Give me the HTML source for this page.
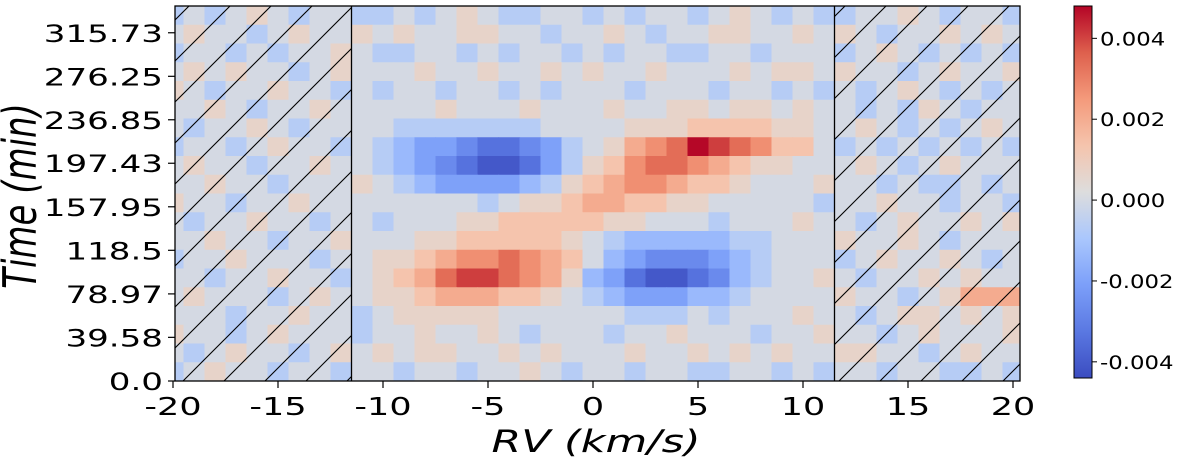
<!DOCTYPE html>
<html><head><meta charset="utf-8">
<style>
html,body{margin:0;padding:0;background:#fff;}
svg{display:block;font-family:"DejaVu Sans","Liberation Sans",sans-serif;}
</style></head>
<body>
<svg id="chart" width="1200" height="474" viewBox="0 0 1200 474" xmlns="http://www.w3.org/2000/svg">
<defs>
<clipPath id="plotclip"><rect x="175" y="6" width="845" height="375"/></clipPath>
<pattern id="hatch" patternUnits="userSpaceOnUse" width="41" height="41" patternTransform="translate(183,381)">
<line x1="0" y1="41" x2="41" y2="0" stroke="#000" stroke-width="1.1"/>
<line x1="-5" y1="5" x2="5" y2="-5" stroke="#000" stroke-width="1.1"/>
<line x1="36" y1="46" x2="46" y2="36" stroke="#000" stroke-width="1.1"/>
</pattern>
<linearGradient id="cbgrad" x1="0" y1="1" x2="0" y2="0">
<stop offset="0" stop-color="rgb(59,76,192)"/>
<stop offset="0.125" stop-color="rgb(90,120,226)"/>
<stop offset="0.25" stop-color="rgb(124,159,249)"/>
<stop offset="0.375" stop-color="rgb(170,199,253)"/>
<stop offset="0.5" stop-color="rgb(221,221,221)"/>
<stop offset="0.625" stop-color="rgb(245,196,173)"/>
<stop offset="0.75" stop-color="rgb(244,154,123)"/>
<stop offset="0.875" stop-color="rgb(222,96,77)"/>
<stop offset="1" stop-color="rgb(180,4,38)"/>
</linearGradient>
</defs>
<g id="cells" clip-path="url(#plotclip)"></g>
<rect x="175" y="6" width="176.5" height="375" fill="url(#hatch)" clip-path="url(#plotclip)"/>
<rect x="834.5" y="6" width="186" height="375" fill="url(#hatch)" clip-path="url(#plotclip)"/>
<line x1="351.5" y1="6" x2="351.5" y2="381" stroke="#000" stroke-width="1.3"/>
<line x1="834.5" y1="6" x2="834.5" y2="381" stroke="#000" stroke-width="1.3"/>
<rect x="175" y="6" width="845" height="375" fill="none" stroke="#000" stroke-width="1.3"/>
<g id="axes"></g>
<text transform="translate(596,452) scale(1.38,1)" text-anchor="middle" font-size="31" font-style="italic">RV (km/s)</text>
<text transform="translate(36,196) rotate(-90) scale(1,1.35)" text-anchor="middle" font-size="34" font-style="italic">Time (min)</text>
<rect x="1074" y="6" width="18" height="372" fill="url(#cbgrad)" stroke="#000" stroke-width="1"/>
<g id="cbaxis"></g>
</svg>
<script>
const vCats = [];
for (let v = -20; v <= 20; v++) vCats.push(v);
const rowDuration = 17;
const valueUnit = 0.00068;
// rows from top (latest time) to bottom (t=0), values in units of valueUnit
const row19 = [-1,0,-1,0,1,0,-1,0,0,-1, -1,0,-1,0,1,0,-1,-1,0,0, -1,0,-1,0,0,-1,0,1,0,-1, 0,-1,-1,0,0,1,0,-1,0,0, -1];
const row18 = [0,1,0,0,-1,0,1,0,0,1, 0,1,0,0,1,1,0,0,-1,0, 0,1,0,-1,0,0,1,1,0,0, 1,0,1,0,-1,0,0,1,0,1, 0];
const row17 = [-1,0,0,-1,0,-1,0,0,1,0, -1,-1,0,0,-1,0,-1,0,0,-1, 0,-1,0,0,-1,-1,0,0,-1,0, 0,0,-1,0,1,0,-1,0,-1,0, -1];
const row16 = [0,1,0,1,0,0,-1,0,1,0, 0,0,1,0,0,1,0,0,1,0, 1,0,0,1,0,0,0,1,0,1, 1,0,1,0,0,-1,0,1,0,0, 1];
const row15 = [1,0,-1,0,0,1,0,0,-1,0, -1,0,0,-1,0,0,-1,0,-1,0, 0,0,-1,0,0,0,-1,0,0,-1, 0,-1,0,-1,0,1,0,-1,0,-1, 0];
const row14 = [0,0,1,0,-1,0,0,1,0,0, 0,0,0,1,0,0,0,1,0,0, 0,1,0,0,1,1,0,1,1,0, 1,0,0,-1,0,-1,1,0,-1,0, 0];
const row13 = [0,-1,0,0,1,0,-1,0,0,0, 0,-1,-1,-1,-1,-1,-1,-1,0,0, 0,0,1,1,1,2,2,2,2,1, 1,0,0,1,0,-1,0,-1,0,1, 0];
const row12 = [-1,0,0,-1,0,1,0,0,-1,0, -1,-2,-3,-3,-4,-5,-5,-4,-3,-1, 0,1,3,4,5,7,6,5,4,2, 2,0,-1,0,-1,0,-1,0,-1,0, -1];
const row11 = [0,1,0,0,-1,0,0,1,0,0, -1,-2,-3,-4,-5,-6,-6,-5,-3,-1, 1,2,4,5,5,4,3,2,1,1, 0,0,0,1,0,-1,0,1,0,0, 0];
const row10 = [0,0,1,0,0,-1,0,0,0,1, 0,-1,-2,-3,-3,-3,-3,-2,-1,1, 2,3,4,4,3,2,2,1,0,0, 0,1,0,0,-1,0,-1,-1,0,-1, 0];
const row9 = [1,0,0,-1,0,0,1,0,0,0, 0,0,0,0,0,-1,0,1,1,2, 3,3,2,2,1,1,0,0,0,0, 0,-1,0,0,1,0,0,-1,0,0, -1];
const row8 = [0,-1,0,0,1,0,0,-1,0,0, -1,0,0,0,1,1,2,2,2,2, 2,1,1,0,0,0,-1,0,0,0, 1,0,0,-1,0,1,0,0,1,0, 1];
const row7 = [0,0,1,0,0,-1,0,0,1,0, 0,0,1,1,2,2,2,2,2,1, 0,-1,-2,-2,-2,-2,-2,-1,-1,0, 0,0,1,0,0,1,0,-1,0,0, 0];
const row6 = [-1,0,0,1,0,0,0,-1,0,0, 1,1,2,3,4,4,5,4,3,2, 0,-2,-3,-4,-4,-4,-3,-2,-1,0, 0,0,-1,0,1,0,0,1,0,-1, 0];
const row5 = [0,0,-1,0,0,1,0,0,-1,0, 1,2,3,5,6,6,5,4,3,1, -2,-3,-5,-6,-6,-5,-4,-2,-1,0, 0,1,0,-1,0,0,1,0,1,0, 0];
const row4 = [0,1,0,0,0,-1,0,1,0,0, 1,1,2,3,3,3,2,2,1,0, -1,-2,-3,-3,-3,-2,-2,-1,0,0, 0,0,1,0,0,-1,0,1,3,3, 3];
const row3 = [0,0,0,-1,0,0,1,0,0,-1, 0,1,1,1,1,1,0,0,0,0, 0,0,-1,-1,-1,0,-1,0,0,0, 1,0,0,-1,0,1,1,0,1,0, 1];
const row2 = [1,0,0,-1,0,1,0,0,0,-1, 0,0,1,0,0,1,0,-1,0,0, 0,-1,0,0,1,0,0,0,-1,0, 0,1,0,0,-1,0,1,0,0,0, 1];
const row1 = [0,-1,0,1,0,0,-1,0,1,0, 1,0,1,1,0,0,1,0,1,0, 0,0,1,0,0,1,0,1,0,1, 0,0,1,1,0,0,-1,0,1,0, 0];
const row0 = [-1,0,1,0,0,-1,0,0,-1,0, 0,-1,0,0,-1,0,0,1,0,-1, 0,0,-1,0,0,-1,-1,0,0,-1, 0,-1,0,0,-1,0,0,-1,-1,0, -1];
const rowsTopDown = [row19,row18,row17,row16,row15,row14,row13,row12,row11,row10,row9,row8,row7,row6,row5,row4,row3,row2,row1,row0];
const xTicks = [-20,-15,-10,-5,0,5,10,15,20];
const yTicks = [0.0,39.58,78.97,118.5,157.95,197.43,236.85,276.25,315.73];
const yTickLabels = ["0.0","39.58","78.97","118.5","157.95","197.43","236.85","276.25","315.73"];
const cbTicks = [-0.004,-0.002,0,0.002,0.004];
const cbTickLabels = ["-0.004","-0.002","0.000","0.002","0.004"];
const vmin = -0.0044, vmax = 0.0048;

const NS = "http://www.w3.org/2000/svg";
const xS = v => 593 + v * 21;
const yS = t => 381 - t * (375 / 340);
const cbS = v => 378 - (v - vmin) / (vmax - vmin) * 372;
const stops = [[59,76,192],[90,120,226],[124,159,249],[170,199,253],[221,221,221],[245,196,173],[244,154,123],[222,96,77],[180,4,38]];
function cmap(v){
  let f = (v - vmin) / (vmax - vmin); f = Math.max(0, Math.min(1, f));
  const p = f * 8, i = Math.min(7, Math.floor(p)), r = p - i;
  const a = stops[i], b = stops[i+1];
  return `rgb(${Math.round(a[0]+(b[0]-a[0])*r)},${Math.round(a[1]+(b[1]-a[1])*r)},${Math.round(a[2]+(b[2]-a[2])*r)})`;
}
function mk(tag, attrs, parent){ const e = document.createElementNS(NS, tag); for (const k in attrs) e.setAttribute(k, attrs[k]); parent.appendChild(e); return e; }

const cells = document.getElementById('cells');
const nRows = rowsTopDown.length;
rowsTopDown.forEach((row, ri) => {
  const rowIdx = nRows - 1 - ri;
  const t0 = rowIdx * rowDuration, t1 = t0 + rowDuration;
  row.forEach((val, ci) => {
    const v = vCats[ci];
    const r = mk('rect', {x: xS(v-0.5), y: yS(t1), width: 21.6, height: yS(t0)-yS(t1)+0.6, fill: cmap(val*valueUnit)}, cells);
    
    
  });
});

const axes = document.getElementById('axes');
xTicks.forEach(v => {
  const l = mk('line', {x1: xS(v), x2: xS(v), y1: 381, y2: 388, stroke: '#000', 'stroke-width': 1.2}, axes);
  
  
  const t = mk('text', {transform: `translate(${xS(v)},415) scale(1.4,1)`, 'text-anchor': 'middle', 'font-size': 25}, axes);
  t.textContent = (v < 0 ? '-' : '') + Math.abs(v);
  
  
});
yTicks.forEach((v, i) => {
  const l = mk('line', {x1: 168, x2: 175, y1: yS(v), y2: yS(v), stroke: '#000', 'stroke-width': 1.2}, axes);
  
  
  const t = mk('text', {transform: `translate(163,${yS(v) + 9}) scale(1.42,1)`, 'text-anchor': 'end', 'font-size': 24}, axes);
  t.textContent = yTickLabels[i];
  
  
});
const cb = document.getElementById('cbaxis');
cbTicks.forEach((v, i) => {
  const l = mk('line', {x1: 1092, x2: 1097, y1: cbS(v), y2: cbS(v), stroke: '#000', 'stroke-width': 1}, cb);
  
  
  const t = mk('text', {transform: `translate(1100,${cbS(v) + 7}) scale(1.2,1)`, 'font-size': 19}, cb);
  t.textContent = cbTickLabels[i];
  
  
});
</script>
</body></html>
